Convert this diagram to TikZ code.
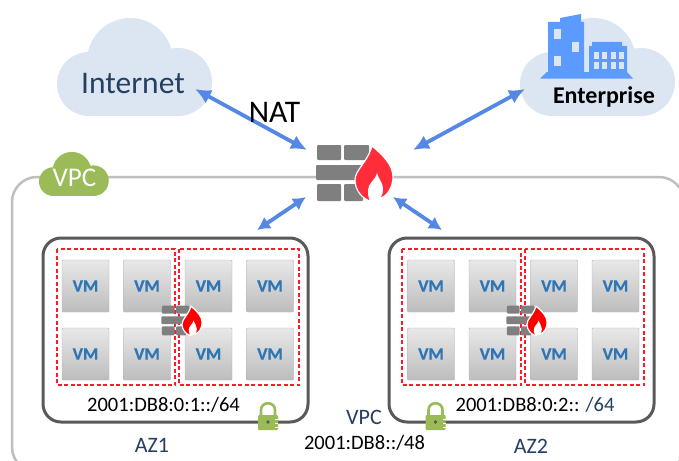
\documentclass[tikz,border=0pt]{standalone}
\usepackage{fontspec}
\setmainfont{Carlito}
\usetikzlibrary{arrows.meta}
\definecolor{cloudblue}{HTML}{DCE6F2}
\definecolor{linkblue}{HTML}{5588E5}
\definecolor{textblue}{HTML}{243F60}
\definecolor{buildblue}{HTML}{5B9BFF}
\definecolor{vpcgreen}{HTML}{9BBB59}
\definecolor{brickgray}{HTML}{7F7F7F}
\definecolor{azgray}{HTML}{595959}
\definecolor{vpcgray}{HTML}{BFBFBF}
\definecolor{flamebig}{HTML}{FF2D3A}
\definecolor{flamesmall}{HTML}{FF0000}
\definecolor{vmblue}{HTML}{2E75B6}
\definecolor{subnetred}{HTML}{FF1A2A}
\begin{document}
\begin{tikzpicture}[x=1pt, y=-1pt]
    % Define styles
    \tikzset{
        link/.style={
            linkblue,
            line width=3.8pt,
            {Latex[length=16pt,width=15pt]}-{Latex[length=16pt,width=15pt]}
        },
        shortlink/.style={
            linkblue,
            line width=3.8pt,
            {Latex[length=13pt,width=14pt]}-{Latex[length=13pt,width=14pt]}
        },
        azbox/.style={
            draw=azgray,
            line width=3pt,
            rounded corners=18pt
        },
        subnet/.style={
            color=subnetred,
            line width=1.3pt,
            dash pattern=on 4pt off 2.5pt
        },
        vmbox/.style={
            draw=black!30,
            rounded corners=1pt,
            top color=black!9,
            bottom color=black!26,
            minimum width=47pt,
            minimum height=52pt,
            inner sep=0pt,
            text=vmblue,
            font=\fontsize{17.5}{17.5}\selectfont\bfseries\addfontfeature{FakeBold=0.7}
        },
        cidr/.style={
            font=\fontsize{20.5}{20.5}\selectfont,
            inner sep=0pt
        },
        bluelabel/.style={
            text=textblue,
            font=\fontsize{22}{22}\selectfont,
            inner sep=0pt
        },
        pics/cloud/.style={
            code={
                \fill[#1] (32,-32) circle[radius=32pt];
                \fill[#1] (73,-55) circle[radius=43pt];
                \fill[#1] (121,-34) circle[radius=34pt];
                \fill[#1] (32,-50) rectangle (121,0);
            }
        },
        pics/firewall/.style={
            code={
                \fill[brickgray, rounded corners=1pt] (-38,-28) rectangle (-14,-13);
                \fill[brickgray, rounded corners=1pt] (-11,-28) rectangle (14,-13);
                \fill[brickgray, rounded corners=1pt] (-39,-8) rectangle (7,7);
                \fill[brickgray, rounded corners=1pt] (-38,11) rectangle (-14,28);
                \fill[brickgray, rounded corners=1pt] (-11,11) rectangle (8,28);
                % Flame
                \filldraw[fill=#1, draw=white, line width=1.2pt] (17,-27)
                    .. controls (28,-18) and (38,-8) .. (38,4)
                    .. controls (38,14) and (32,24) .. (25,25)
                    -- (15,28)
                    .. controls (8,26) and (0,18) .. (0,7)
                    .. controls (0,-3) and (12,-10) .. (17,-27) -- cycle;
                \fill[white] (22,0)
                    .. controls (24,7) and (28,10) .. (28,16)
                    .. controls (28,20) and (27,23) .. (25,25)
                    -- (15,28)
                    .. controls (13,24) and (13,20) .. (13,17)
                    .. controls (13,10) and (20,8) .. (22,0) -- cycle;
            }
        },
        pics/padlock/.style={
            code={
                \draw[vpcgreen, line width=2.6pt] (-7,0) -- (-7,-6)
                    .. controls (-7,-15) and (7,-15) .. (7,-6) -- (7,0);
                \fill[vpcgreen, rounded corners=1pt] (-10,-1) rectangle (10,14);
                \fill[azgray] (0,6) circle[radius=1.8pt];
                \foreach \y in {3,7,11}
                    \fill[white] (7,\y) rectangle (10,\y+1);
            }
        }
    }

    \clip (0,0) rectangle (679,460);
    \fill[white] (0,0) rectangle (679,460);

    % VPC outline
    \draw[vpcgray, line width=2.5pt, rounded corners=25pt] (12,177) rectangle (684,472);
    \pic[scale=0.45] at (39,196) {cloud=vpcgreen};
    \node[text=white, font=\fontsize{27}{27}\selectfont, inner sep=0pt] (vpctag) at (74.5,178) {VPC};

    % Clouds
    \pic at (57,116) {cloud=cloudblue};
    \pic at (520,116) {cloud=cloudblue};
    \node[text=textblue, font=\fontsize{31.5}{31.5}\selectfont, inner sep=0pt] (internet) at (133,84) {Internet};
    \node[font=\fontsize{24}{24}\selectfont\bfseries, inner sep=0pt] (enterprise) at (604,97) {Enterprise};

    % Building
    \fill[buildblue] (548,74) -- (548,22) -- (560,22) -- (560,18) -- (581,14) -- (581,22) -- (584,22) -- (584,74) -- cycle;
    \fill[buildblue] (589,74) -- (589,46) -- (592,46) -- (592,42) -- (622,42) -- (622,46) -- (627,46) -- (627,74) -- cycle;
    \fill[buildblue] (540,78.5) -- (547,72) -- (627,72) -- (633,78.5) -- cycle;
    \foreach \x/\y in {554/29, 572/42, 554/56}
        \fill[cloudblue] (\x,\y) rectangle ++(7,10);
    \foreach \x in {594,602,611,619}
        \foreach \y in {52,62}
            \fill[cloudblue] (\x,\y) rectangle ++(5,6.5);

    % Availability zones
    \draw[azbox] (43,238) rectangle (308,422);
    \draw[azbox] (389,238) rectangle (654,422);
    \foreach \xa/\xb in {57/175, 179/299, 402/521, 525/644}
        \draw[subnet] (\xa,249) rectangle (\xb,385);

    % VMs
    \foreach \x in {85.5,147,208.5,270,431,492.5,554,615.5}
        \foreach \y in {286,354}
            \node[vmbox] (vm-\x-\y) at (\x,\y) {VM};

    % Firewalls
    \pic at (355,173) {firewall=flamebig};
    \pic[scale=0.53] at (182,320.5) {firewall=flamesmall};
    \pic[scale=0.53] at (527,320.5) {firewall=flamesmall};

    % Connector ends
    \coordinate (internetport) at (195,89);
    \coordinate (enterpriseport) at (525,89);
    \coordinate (fwnat) at (307,150);
    \coordinate (fwenterprise) at (413,150);
    \coordinate (fwaza) at (306,197);
    \coordinate (fwazb) at (393,197);
    \coordinate (azaport) at (257,230);
    \coordinate (azbport) at (442,230);

    % Connectors
    \draw[link] (internetport) -- (fwnat);
    \draw[link] (fwenterprise) -- (enterpriseport);
    \draw[shortlink] (azaport) -- (fwaza);
    \draw[shortlink] (fwazb) -- (azbport);
    \node[font=\fontsize{31.5}{31.5}\selectfont, inner sep=0pt] (nat) at (274.5,112) {NAT};

    % Locks
    \pic at (268,416) {padlock};
    \pic at (435.5,416) {padlock};

    % Labels
    \node[cidr] (subneta) at (163.5,405) {2001:DB8:0:1::/64};
    \node[cidr] (subnetb) at (535,405) {2001:DB8:0:2:: \textcolor{textblue}{/64}};
    \node[bluelabel] (aza) at (152,445) {AZ1};
    \node[bluelabel] (azb) at (531,446) {AZ2};
    \node[bluelabel] (vpclabel) at (364,417) {VPC};
    \node[cidr] (vpccidr) at (364.5,443) {2001:DB8::/48};
\end{tikzpicture}
\end{document}
